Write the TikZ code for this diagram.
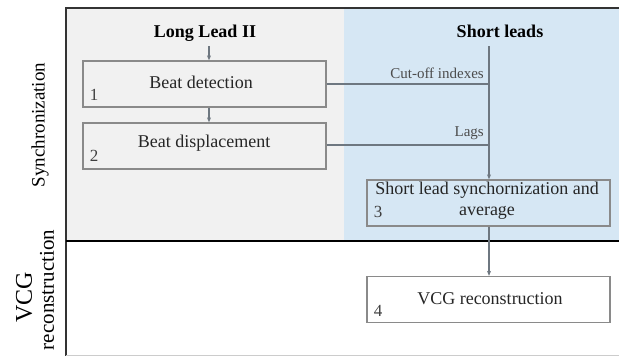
\documentclass[tikz,border=0pt]{standalone}
\usepackage{fontspec}
\setmainfont{Liberation Serif}
\usetikzlibrary{arrows.meta}
\definecolor{graybg}{HTML}{F1F1F1}
\definecolor{bluebg}{HTML}{D6E7F4}
\definecolor{boxline}{HTML}{8A8A8A}
\definecolor{conn}{HTML}{6E7780}
\begin{document}
\begin{tikzpicture}[x=1pt,y=-1pt,
  stepbox/.style={draw=boxline,line width=1.3pt,minimum width=243pt,minimum height=46pt,inner sep=0pt},
  steptext/.style={font=\fontsize{18}{20}\selectfont,inner sep=0pt,text=black!85},
  numlab/.style={font=\fontsize{17}{19}\selectfont,text=black!75,inner sep=0pt},
  hdr/.style={font=\bfseries\fontsize{18}{20}\selectfont,inner sep=0pt},
  lbl/.style={font=\fontsize{15}{17}\selectfont,text=black!70,inner sep=0pt},
  conline/.style={draw=conn,line width=1.2pt},
  arr/.style={conline,-{Stealth[length=5pt,width=4pt]}}]
\useasboundingbox (0,0) rectangle (619,356);
\fill[white] (0,0) rectangle (619,356);
% backgrounds
\fill[graybg] (66,8) rectangle (344,241);
\fill[bluebg] (344,8) rectangle (619,241);
% frame
\draw[black!80,line width=2pt] (66,356) -- (66,8) -- (619,8);
\draw[black,line width=2pt] (66,241) -- (619,241);
\draw[black!20,line width=0.8pt] (66,355.5) -- (619,355.5);
% side labels
\node[rotate=90,font=\fontsize{19}{21}\selectfont,inner sep=0pt] (sync) at (40,125) {Synchronization};
\node[rotate=90,font=\fontsize{24}{26}\selectfont,inner sep=0pt] (vcg) at (24,297) {VCG};
\node[rotate=90,font=\fontsize{21}{23}\selectfont,inner sep=0pt] (rec) at (47,290) {reconstruction};
% headers
\node[hdr] (long) at (205,33) {Long Lead II};
\node[hdr] (short) at (500,31) {Short leads};
% boxes
\node[stepbox,fill=graybg] (b1) at (204.5,84) {};
\node[steptext] (t1) at (201,82) {Beat detection};
\node[numlab] (n1) at (94,95) {1};
\node[stepbox,fill=graybg] (b2) at (204.5,146) {};
\node[steptext] (t2) at (204,143) {Beat displacement};
\node[numlab] (n2) at (94,156) {2};
\node[stepbox,fill=bluebg] (b3) at (488.5,203) {};
\node[font=\fontsize{18}{21}\selectfont,inner sep=0pt,align=center,text=black!85] (t3) at (487,201) {Short lead synchornization and\\average};
\node[numlab] (n3) at (378,212) {3};
\node[stepbox,fill=white] (b4) at (488.5,299.5) {};
\node[steptext] (t4) at (490,299) {VCG reconstruction};
\node[numlab] (n4) at (378,311) {4};
% connectors
\coordinate (vtop) at (489,46);
\coordinate (j1) at (489,84);
\coordinate (j2) at (489,145);
\draw[arr] (209,46) -- (b1.north -| 209,0);
\draw[arr] (b1.south -| 209,0) -- (b2.north -| 209,0);
\draw[conline] (b1.east) -- (j1);
\draw[conline] (b2.east |- j2) -- (j2);
\draw[arr] (vtop) -- (b3.north -| vtop);
\draw[arr] (b3.south -| vtop) -- (b4.north -| vtop);
\node[lbl,anchor=south east] (cut) at (484,79) {Cut-off indexes};
\node[lbl,anchor=south east] (lags) at (484,140) {Lags};
\end{tikzpicture}
\end{document}
